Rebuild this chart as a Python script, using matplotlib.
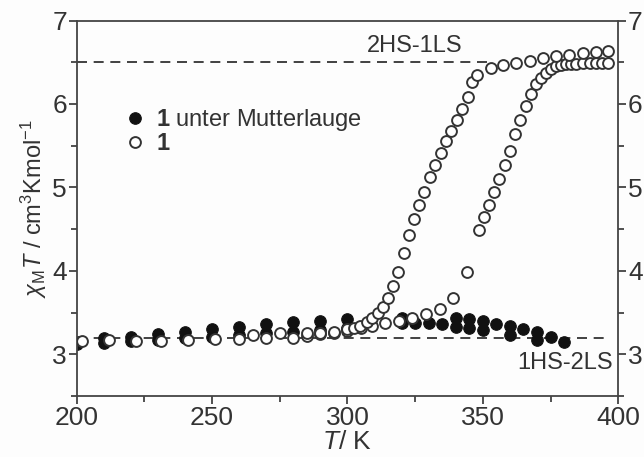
import matplotlib
matplotlib.use("Agg")
import matplotlib.pyplot as plt
from matplotlib.ticker import MultipleLocator

plt.rcParams['font.family'] = ['Liberation Sans', 'DejaVu Sans']
plt.rcParams['mathtext.fontset'] = 'custom'
plt.rcParams['mathtext.rm'] = 'Liberation Sans'
plt.rcParams['mathtext.it'] = 'Liberation Sans:italic'
plt.rcParams['mathtext.bf'] = 'Liberation Sans:bold'

# Daten: 1 unter Mutterlauge (gefuellte Kreise, zwei Messreihen)
t_mutter_a = [200, 210, 220, 230, 240, 250, 260, 270, 280, 290, 300,
              320, 325, 330, 335, 340, 345, 350, 355, 360, 365, 370, 375, 380]
chi_mutter_a = [3.15, 3.19, 3.21, 3.24, 3.27, 3.30, 3.33, 3.36, 3.39, 3.40, 3.42,
                3.44, 3.38, 3.38, 3.36, 3.43, 3.42, 3.40, 3.36, 3.34, 3.30, 3.27, 3.21, 3.15]
t_mutter_b = [200, 210, 220, 230, 240, 250, 260, 270, 280, 290, 300,
              320, 340, 345, 350, 360, 370]
chi_mutter_b = [3.12, 3.14, 3.16, 3.17, 3.19, 3.21, 3.23, 3.25, 3.27, 3.29, 3.31,
                3.37, 3.33, 3.32, 3.29, 3.23, 3.17]

# Daten: 1 (offene Kreise), Aufheizen
t_heiz = [202, 212, 222, 231, 241, 251, 260, 270, 280, 285, 290, 295, 300, 305,
          309, 314, 319, 324, 329, 334, 339, 344, 348.5, 350.4, 352.3, 354.2, 356,
          358, 360, 361.7, 363.6, 365.8, 367.9, 369.7, 371.6, 373.4, 375.3, 377.1,
          379, 380.8, 382.6, 384.5, 386.9, 389.5, 391.8, 394, 396.2]
chi_heiz = [3.16, 3.17, 3.16, 3.16, 3.17, 3.18, 3.18, 3.19, 3.19, 3.22, 3.24, 3.25,
            3.28, 3.31, 3.34, 3.38, 3.40, 3.44, 3.48, 3.54, 3.67, 3.99, 4.49, 4.64,
            4.79, 4.94, 5.10, 5.27, 5.44, 5.64, 5.81, 5.98, 6.12, 6.24, 6.31, 6.37,
            6.42, 6.45, 6.47, 6.48, 6.48, 6.48, 6.49, 6.49, 6.49, 6.49, 6.49]

# Daten: 1 (offene Kreise), Abkuehlen
t_kuehl = [265, 275, 285, 290, 295, 300, 302.4, 304.8, 307.2, 309.2, 311.3, 313.1,
           315, 317, 318.8, 320.8, 322.6, 324.5, 326.5, 328.2, 330.4, 332.5, 334.4,
           336.5, 338.4, 340.4, 342.3, 344.5, 346.1, 347.8, 352.9, 357.4, 362.4,
           367.3, 372.4, 377.1, 382, 386.9, 391.8, 396.2]
chi_kuehl = [3.23, 3.25, 3.26, 3.26, 3.27, 3.30, 3.32, 3.34, 3.39, 3.44, 3.49, 3.57,
             3.67, 3.82, 3.99, 4.21, 4.43, 4.62, 4.79, 4.95, 5.13, 5.27, 5.41, 5.56,
             5.68, 5.81, 5.94, 6.08, 6.26, 6.35, 6.43, 6.47, 6.49, 6.52, 6.55, 6.58,
             6.59, 6.61, 6.62, 6.63]

hs_level = 6.5
ls_level = 3.2

ink = '#333333'

fig = plt.figure(figsize=(6.44, 4.57), dpi=100, facecolor='#fdfdfd')
ax = fig.add_axes([0.119, 0.1335, 0.841, 0.8215])
ax.set_facecolor('#fdfdfd')

# Referenzlinien
ax.plot([200, 352], [hs_level, hs_level], ls=(0, (6, 4)), color='#222222', lw=1.2, zorder=1)
ax.plot([200, 397], [ls_level, ls_level], ls=(0, (6, 4)), color='#222222', lw=1.2, zorder=1)

kw_voll = dict(ls='none', marker='o', ms=8.3, mfc='#111111', mec='#111111', mew=0.8)
kw_offen = dict(ls='none', marker='o', ms=7.8, mfc='white', mec=ink, mew=1.4)

ax.plot(t_mutter_a, chi_mutter_a, zorder=2, label=r'$\mathbf{1}$ unter Mutterlauge', **kw_voll)
ax.plot(t_mutter_b, chi_mutter_b, zorder=2, **kw_voll)
ax.plot(t_heiz, chi_heiz, zorder=3, label=r'$\mathbf{1}$', **kw_offen)
ax.plot(t_kuehl, chi_kuehl, zorder=3, **kw_offen)

ax.text(325, 6.70, '2HS-1LS', ha='center', va='center', fontsize=17, color=ink)
ax.text(398, 2.90, '1HS-2LS', ha='right', va='center', fontsize=17, color=ink)

ax.set_xlim(200, 400)
ax.set_ylim(2.5, 7)
ax.xaxis.set_major_locator(MultipleLocator(50))
ax.xaxis.set_minor_locator(MultipleLocator(25))
ax.yaxis.set_major_locator(MultipleLocator(1))
ax.yaxis.set_minor_locator(MultipleLocator(0.5))
ax.tick_params(which='both', direction='out', colors=ink, top=False, right=True,
               labelright=True, labelsize=19, width=1.2)
ax.tick_params(which='major', length=6, pad=1)
ax.tick_params(which='minor', length=4)
for sp in ax.spines.values():
    sp.set_color('#444444')
    sp.set_linewidth(1.3)

ax.set_xlabel(r'$T$/ K', fontsize=19, color=ink, labelpad=0)
ax.set_ylabel(r'$\chi_{\mathrm{M}}T$ / cm$^3$Kmol$^{-1}$', fontsize=17, color=ink, labelpad=2)

leg = ax.legend(loc='upper left', bbox_to_anchor=(0.06, 0.80), frameon=False,
                fontsize=17, handletextpad=0.3, borderpad=0, labelspacing=0.0,
                handlelength=1.2)
for txt in leg.get_texts():
    txt.set_color(ink)

fig.savefig('out.png', dpi=100, facecolor=fig.get_facecolor())
